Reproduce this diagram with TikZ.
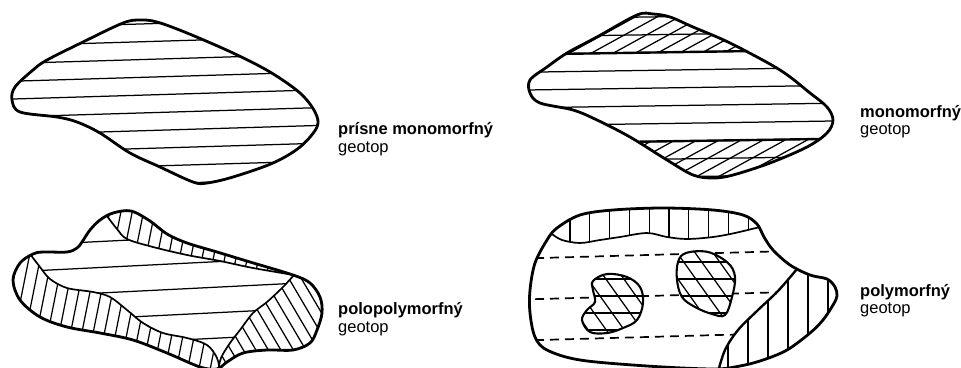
\documentclass[tikz,border=0pt]{standalone}
\usepackage{fontspec}
\setmainfont{Liberation Sans}
\begin{document}
\begin{tikzpicture}[x=1pt,y=-1pt,
  outline/.style={line width=2.8pt, line join=round},
  hatch/.style={line width=1.25pt},
  bound/.style={line width=1.7pt},
  thickbound/.style={line width=2.4pt},
  dashline/.style={line width=1.7pt, dash pattern=on 9pt off 6pt},
  lab/.style={anchor=base west, inner sep=0pt, font=\fontsize{16.5}{19}\selectfont},
  labb/.style={lab, font=\fontsize{16.5}{19}\selectfont\bfseries}]
\useasboundingbox (0,0) rectangle (961,367);
\fill[white] (0,0) rectangle (961,367);

% ---------- shape 1: prisne monomorfny ----------
\def\outA{plot[smooth cycle, tension=0.55] coordinates {(140,20) (157,22) (187,33) (233,53) (270,72) (300,93) (315,112) (317,127) (300,147) (273,163) (233,177) (207,183) (193,182) (160,167) (130,153) (100,133) (77,122) (57,117) (20,112) (12,100) (15,87) (33,70) (47,60) (83,42) (123,23)}}
\begin{scope}
  \clip \outA;
  \foreach \k in {0,...,10} \draw[hatch] (0,{10.4+17.8*\k}) -- (340,{0.2+17.8*\k});
\end{scope}
\draw[outline] \outA;

% ---------- shape 2: monomorfny ----------
\def\outB{plot[smooth cycle, tension=0.55] coordinates {(653,14) (670,17) (693,27) (730,43) (780,70) (810,93) (827,107) (833,120) (827,133) (807,147) (770,163) (733,175) (713,178) (693,175) (667,160) (630,137) (597,120) (573,110) (540,103) (530,93) (530,80) (547,67) (567,53) (597,37) (637,15)}}
\begin{scope}
  \clip \outB;
  \foreach \k in {0,...,9} \draw[hatch] (500,{19.2+17.8*\k}) -- (860,{13.8+17.8*\k});
  \begin{scope}
    \clip (500,0) -- (860,0) -- (860,49.4) -- (500,54.8) -- cycle;
    \foreach \k in {0,...,22} \draw[hatch] ({258+22*\k},200) -- ++(364,-200);
  \end{scope}
  \begin{scope}
    \clip (500,143.8) -- (860,138.4) -- (860,200) -- (500,200) -- cycle;
    \foreach \k in {0,...,22} \draw[hatch] ({258+22*\k},200) -- ++(364,-200);
  \end{scope}
  \draw[thickbound] (500,54.8) -- (860,49.4);
  \draw[thickbound] (500,143.8) -- (860,138.4);
\end{scope}
\draw[outline] \outB;

% ---------- shape 3: polopolymorfny ----------
\def\outC{plot[smooth cycle, tension=0.55] coordinates {(13,280) (20,263) (33,254) (43,252) (67,252) (77,248) (82,242) (90,230) (100,220) (113,213) (131,211) (150,221) (167,234) (187,243) (217,252) (250,262) (293,275) (310,283) (320,297) (322,313) (317,330) (310,343) (293,350) (267,350) (243,353) (227,362) (217,369) (200,367) (167,353) (133,340) (100,333) (67,327) (40,317) (20,300)}}
\def\innerT{plot[smooth, tension=0.55] coordinates {(107,216) (117,229) (127,239) (153,247) (187,255) (220,261) (253,268) (294,275)}}
\def\innerL{plot[smooth, tension=0.55] coordinates {(30,254) (40,267) (50,279) (67,288) (93,292) (110,297) (127,310) (143,323) (163,333) (187,338) (207,345) (217,358) (220,372)}}
\def\innerR{plot[smooth, tension=0.55] coordinates {(294,275) (283,287) (267,302) (253,313) (240,330) (230,343) (221,358) (218,372)}}
\begin{scope}
  \clip \outC;
  \foreach \c in {239,265,290.5,316,341.5,367} \draw[hatch] (0,{\c+7.5}) -- (340,{\c-9.5});
  % top band
  \begin{scope}
    \clip \innerT -- (350,275) -- (350,190) -- (107,190) -- cycle;
    \fill[white] (0,150) rectangle (350,380);
    \foreach \k in {0,...,20} \draw[hatch] ({92+11.3*\k},300) -- ++(20,-100);
  \end{scope}
  % left/bottom band
  \begin{scope}
    \clip \innerL -- (220,390) -- (0,390) -- (0,240) -- cycle;
    \fill[white] (0,150) rectangle (350,390);
    \foreach \k in {0,...,22} \draw[hatch] ({-20+11.3*\k},390) -- ++(34,-170);
  \end{scope}
  % right band
  \begin{scope}
    \clip \innerR -- (218,390) -- (350,390) -- (350,275) -- cycle;
    \fill[white] (0,150) rectangle (350,390);
    \foreach \k in {0,...,14} \draw[hatch] ({150+12.5*\k},255) -- ++(80,136);
  \end{scope}
  \draw[bound] \innerT;
  \draw[bound] \innerL;
  \draw[bound] \innerR;
\end{scope}
\draw[outline] \outC;

% ---------- shape 4: polymorfny ----------
\def\outD{plot[smooth cycle, tension=0.55] coordinates {(557,228) (580,215) (613,210) (663,208) (713,210) (743,215) (757,224) (764,237) (773,250) (790,265) (810,275) (827,279) (835,287) (837,296) (833,305) (823,320) (810,333) (787,350) (763,360) (740,366) (713,369) (647,366) (580,360) (547,350) (535,337) (530,313) (530,290) (535,263) (547,240)}}
\def\innerTD{plot[smooth, tension=0.55] coordinates {(552,234) (562,240) (580,243) (600,240) (620,237) (647,233) (667,237) (687,239) (713,237) (735,233) (760,227)}}
\def\innerRD{plot[smooth, tension=0.55] coordinates {(797,269) (778,291) (758,310) (738,330) (725,350) (718,372)}}
\def\blobL{plot[smooth cycle, tension=0.6] coordinates {(593,281) (607,274) (627,277) (640,287) (643,303) (637,320) (623,328) (607,333) (590,332) (582,320) (587,310) (595,302) (593,290)}}
\def\blobR{plot[smooth cycle, tension=0.6] coordinates {(678,262) (686,253) (708,252) (728,263) (735,277) (732,297) (725,315) (712,314) (695,307) (682,297) (677,280)}}
\begin{scope}
  \clip \outD;
  \foreach \c in {258,299,340} \draw[dashline] (520,{\c+0.56}) -- (860,{\c-8.96});
  % top band
  \begin{scope}
    \clip \innerTD -- (790,222) -- (790,190) -- (540,190) -- cycle;
    \fill[white] (520,190) rectangle (860,380);
    \foreach \k in {0,...,9} \draw[hatch] ({570+19.8*\k},195) -- ++(0,60);
  \end{scope}
  % right band
  \begin{scope}
    \clip \innerRD -- (870,390) -- (870,262) -- (797,262) -- cycle;
    \fill[white] (520,190) rectangle (870,390);
    \foreach \k in {0,...,6} \draw[hatch] ({728+20*\k},250) -- ++(0,130);
  \end{scope}
  \draw[bound] \innerTD;
  \draw[thickbound] \innerRD;
  % blobs
  \foreach \b in {\blobL,\blobR} {
    \fill[white] \b;
    \begin{scope}
      \clip \b;
      \foreach \k in {0,...,4} \draw[hatch] (570,{262+17*\k}) -- (750,{262+17*\k});
      \foreach \k in {0,...,16} \draw[hatch] ({470+18*\k},240) -- ++(100,140);
    \end{scope}
    \draw[line width=2.1pt] \b;
  }
\end{scope}
\draw[outline] \outD;

% ---------- labels ----------
\node[labb] (l1a) at (338,134) {prísne monomorfný};
\node[lab]  (l1b) at (338,152) {geotop};
\node[labb] (l2a) at (860,117) {monomorfný};
\node[lab]  (l2b) at (860,134) {geotop};
\node[labb] (l3a) at (338,314) {polopolymorfný};
\node[lab]  (l3b) at (338,332) {geotop};
\node[labb] (l4a) at (860,296) {polymorfný};
\node[lab]  (l4b) at (860,313) {geotop};
\end{tikzpicture}
\end{document}
